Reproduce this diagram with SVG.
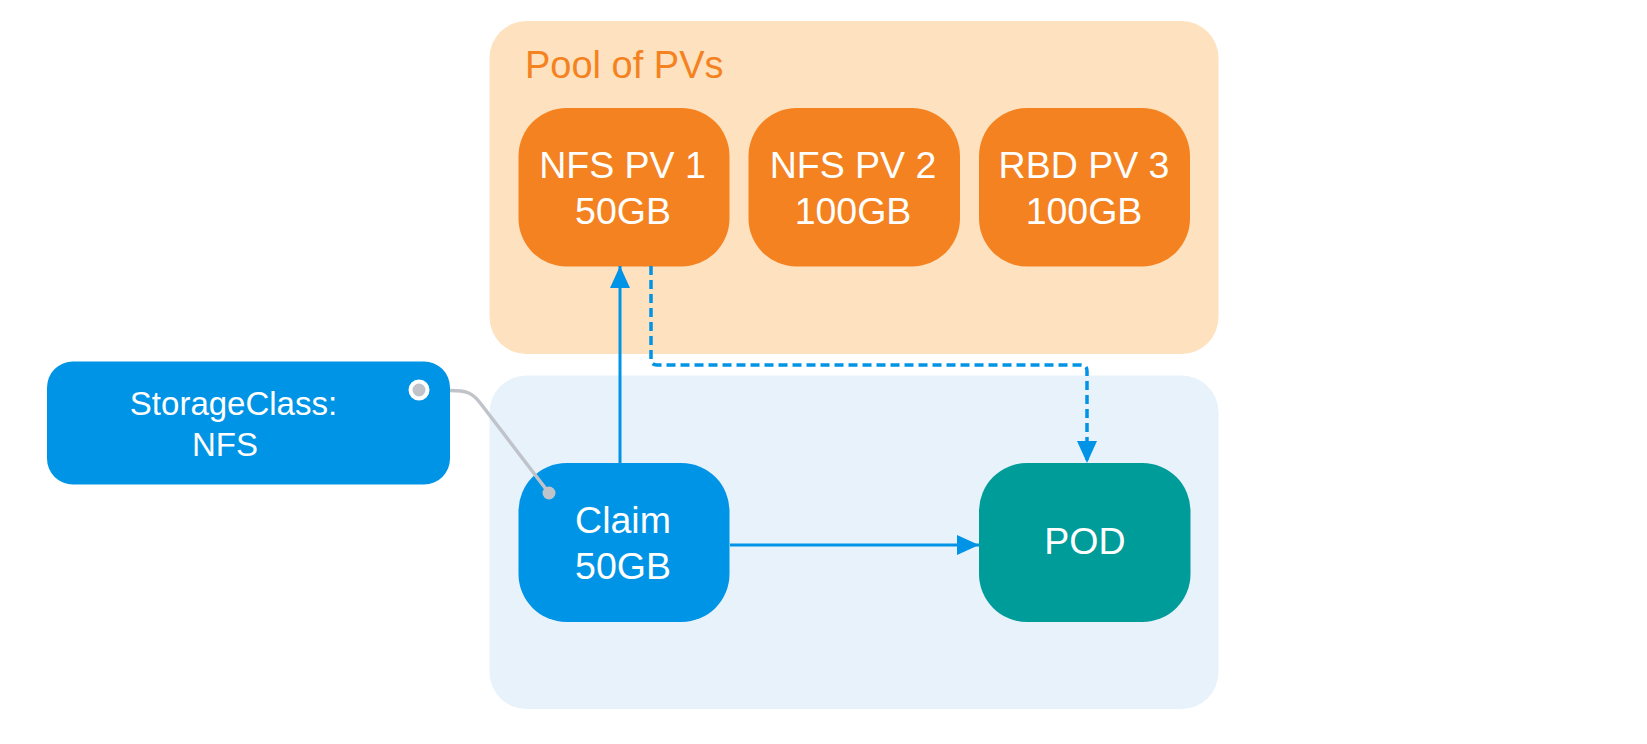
<svg xmlns="http://www.w3.org/2000/svg" width="1647" height="744" viewBox="0 0 1647 744">
<style>
.lbl{font-family:"Liberation Sans",Arial,sans-serif;fill:#fff;text-anchor:middle;font-size:37.5px}
.sc{font-size:33px}
.conn{fill:none;stroke:#0093E6;stroke-width:3}
.dash{stroke-width:3.5;stroke-dasharray:9 5}
</style>
<defs>
<marker id="arr" viewBox="0 0 22 20" refX="22" refY="10" markerWidth="22" markerHeight="20" markerUnits="userSpaceOnUse" orient="auto">
<path d="M0,0 L22,10 L0,20 z" fill="#0093E6"/>
</marker>
</defs>
<rect width="1647" height="744" fill="#fff"/>
<g id="pool">
<rect x="489.5" y="21" width="729" height="333" rx="37" fill="#FEE2BF"/>
<text x="525" y="77.5" font-family="Liberation Sans,Arial,sans-serif" font-size="38" fill="#F58220">Pool of PVs</text>
</g>
<g id="claimArea">
<rect x="489.5" y="375.5" width="729" height="333.5" rx="37" fill="#E7F2FB"/>
</g>
<g id="pv1">
<rect x="518.5" y="108" width="211" height="158.5" rx="48" fill="#F58220"/>
<text class="lbl" x="622.5" y="178">NFS PV 1</text>
<text class="lbl" x="623" y="223.5">50GB</text>
</g>
<g id="pv2">
<rect x="748.5" y="108" width="211.5" height="158.5" rx="48" fill="#F58220"/>
<text class="lbl" x="853" y="178">NFS PV 2</text>
<text class="lbl" x="853" y="223.5">100GB</text>
</g>
<g id="pv3">
<rect x="979" y="108" width="211" height="158.5" rx="48" fill="#F58220"/>
<text class="lbl" x="1084" y="178">RBD PV 3</text>
<text class="lbl" x="1084" y="223.5">100GB</text>
</g>
<g id="claim">
<rect x="518.5" y="463" width="211" height="159" rx="48" fill="#0094E6"/>
<text class="lbl" x="623" y="533">Claim</text>
<text class="lbl" x="623" y="578.5">50GB</text>
</g>
<g id="pod">
<rect x="979" y="463" width="211.5" height="159" rx="48" fill="#009C99"/>
<text class="lbl" x="1085" y="554">POD</text>
</g>
<g id="storageclass">
<rect x="47" y="361.5" width="403" height="123" rx="26" fill="#0094E6"/>
<text class="lbl sc" x="233.5" y="415">StorageClass:</text>
<text class="lbl sc" x="225" y="455.5">NFS</text>
<circle cx="419" cy="390" r="8.5" fill="#C0C4CA" stroke="#fff" stroke-width="4"/>
</g>
<g id="connectors">
<path class="conn" d="M620,463 V266" marker-end="url(#arr)"/>
<path class="conn" d="M730,545 H979" marker-end="url(#arr)"/>
<path class="conn dash" d="M651,266 V359 Q651,365 657,365 H1081 Q1087,365 1087,371 V463" marker-end="url(#arr)"/>
<path d="M450,390.5 C466,390.5 472,392 481,404 L549,493" fill="none" stroke="#C0C4CA" stroke-width="3.5"/>
<circle cx="549" cy="493" r="6.5" fill="#C0C4CA"/>
</g>
</svg>
